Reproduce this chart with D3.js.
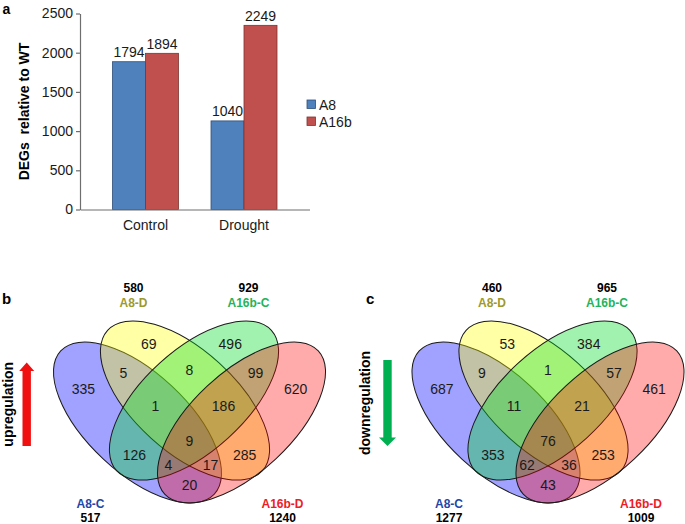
<!DOCTYPE html>
<html><head><meta charset="utf-8">
<script src="https://cdn.jsdelivr.net/npm/d3@7"></script>
<style>
body{margin:0;background:#fff;}
svg{display:block;font-family:"Liberation Sans",Arial,Helvetica,sans-serif;}
</style></head><body>
<svg id="chart" width="685" height="524"></svg>
<script>
// ---------------- data ----------------
const categories = ["Control", "Drought"];
const seriesNames = ["A8", "A16b"];
const a8Heights = [1885, 1130];      // bar heights as drawn
const a16bHeights = [1992, 2349];
const a8Labels = ["1794", "1040"];   // printed value labels
const a16bLabels = ["1894", "2249"];
const yTicks = [0, 500, 1000, 1500, 2000, 2500];
const yTitle = "DEGs  relative to WT";

const setNames = ["A8-C", "A8-D", "A16b-C", "A16b-D"];
const upTotals = [517, 580, 929, 1240];
const downTotals = [1277, 460, 965, 1009];
// membership order: A8-C, A8-D, A16b-C, A16b-D
const regionKeys = ["1000","0100","0010","0001","1100","0110","0011","1001","1010","0101","1110","0111","1011","1101","1111"];
const upCounts   = [335, 69, 496, 620, 5, 8, 99, 20, 126, 285, 1, 186, 4, 17, 9];
const downCounts = [687, 53, 384, 461, 9, 1, 57, 43, 353, 253, 11, 21, 62, 36, 76];

// ---------------- setup ----------------
const FONT = '"Liberation Sans", Arial, Helvetica, sans-serif';
const ink = "#1a1a1a";
const axisColor = "#6e6e6e";
const svg = d3.select("#chart");

// ================= panel a =================
const gA = svg.append("g");
gA.append("text").attr("x", 2.5).attr("y", 13.5).attr("font-weight", "bold")
  .attr("font-size", 14).attr("fill", "#000").text("a");

const y = d3.scaleLinear().domain([0, 2500]).range([209.5, 13.5]);
const x0 = d3.scaleBand().domain(categories).range([80, 309.5]).paddingInner(0.33).paddingOuter(0.33);
const x1 = d3.scaleBand().domain(seriesNames).range([0, x0.bandwidth()]);
const fillC = d3.scaleOrdinal().domain(seriesNames).range(["#4f81bd", "#c0504d"]);
const strokeC = d3.scaleOrdinal().domain(seriesNames).range(["#2f4f78", "#7f3331"]);
const heights = {A8: a8Heights, A16b: a16bHeights};
const labels = {A8: a8Labels, A16b: a16bLabels};
const rows = [];
categories.forEach((c, i) => seriesNames.forEach(s => rows.push({c, s, v: heights[s][i], label: labels[s][i]})));

gA.selectAll("rect.bar").data(rows).join("rect").attr("class", "bar")
  .attr("x", d => x0(d.c) + x1(d.s)).attr("y", d => y(d.v))
  .attr("width", x1.bandwidth()).attr("height", d => y(0) - y(d.v))
  .attr("fill", d => fillC(d.s)).attr("stroke", d => strokeC(d.s)).attr("stroke-width", 0.8);

gA.selectAll("text.val").data(rows).join("text").attr("class", "val")
  .attr("x", d => x0(d.c) + x1(d.s) + x1.bandwidth() / 2).attr("y", d => y(d.v) - 4.5)
  .attr("text-anchor", "middle").attr("font-size", 14).attr("fill", ink).text(d => d.label);

const yAx = gA.append("g").attr("transform", "translate(80,0)")
  .call(d3.axisLeft(y).tickValues(yTicks).tickFormat(d3.format("d")).tickSize(4).tickSizeOuter(0).tickPadding(3))
  .attr("font-family", FONT).attr("font-size", 14);
yAx.select(".domain").attr("stroke", axisColor).attr("stroke-width", 1.2);
yAx.selectAll(".tick line").attr("stroke", axisColor).attr("stroke-width", 1.2);
yAx.selectAll(".tick text").attr("fill", ink);

const xAx = gA.append("g").attr("transform", `translate(0,${y(0)})`)
  .call(d3.axisBottom(x0).tickSize(0).tickSizeOuter(0).tickPadding(11))
  .attr("font-family", FONT).attr("font-size", 14);
xAx.select(".domain").attr("stroke", axisColor).attr("stroke-width", 1.2);
xAx.selectAll(".tick text").attr("fill", ink);

gA.append("text").attr("transform", "translate(28.5,111.5) rotate(-90)")
  .attr("text-anchor", "middle").attr("font-weight", "bold").attr("font-size", 14)
  .style("white-space", "pre").attr("fill", "#000").text(yTitle);

const legY = d3.scaleBand().domain(seriesNames).range([98, 132]);
const leg = gA.selectAll("g.leg").data(seriesNames).join("g").attr("class", "leg")
  .attr("transform", d => `translate(307,${legY(d)})`);
leg.append("rect").attr("x", 0).attr("y", 2).attr("width", 8.5).attr("height", 8.5)
  .attr("fill", d => fillC(d)).attr("stroke", d => strokeC(d)).attr("stroke-width", 0.8);
leg.append("text").attr("x", 12).attr("y", 12).attr("font-size", 14).attr("fill", ink).text(d => d);

// ================= Venn panels =================
// ellipse layout (pixel offsets from the diagram centre)
const ellipses = [
  {x: -52,  y: 12.5, a: 105,   b: 50,   rot: 43,   fill: "#0000ff", op: 0.37},
  {x: -4.5, y: -9.5, a: 104.5, b: 50.7, rot: 42.2, fill: "#ffff00", op: 0.35},
  {x: 4.5,  y: -9.5, a: 104.5, b: 50.7, rot: -42.2, fill: "#00dd22", op: 0.37},
  {x: 52,   y: 12.5, a: 105,   b: 50,   rot: -43,  fill: "#ff0000", op: 0.33}
];
const setColors = ["#1f47a8", "#9d9a2c", "#25b35a", "#ee1c24"];
const setLabelPos = [[-99, 1], [-56, -1], [59, -1], [93, 1]]; // x offset, side (-1 top, 1 bottom)

function computeLabelPoints(ells) {
  const gx = -150, gy = -105, GW = 300, GH = 215, N = GW * GH;
  const keys = new Array(N);
  const prep = ells.map(e => ({...e, c: Math.cos(e.rot * Math.PI / 180), s: Math.sin(e.rot * Math.PI / 180)}));
  for (let j = 0; j < GH; j++) for (let i = 0; i < GW; i++) {
    const px = gx + i + 0.5, py = gy + j + 0.5;
    let k = "";
    for (const e of prep) {
      const dx = px - e.x, dy = py - e.y;
      const u = dx * e.c + dy * e.s, v = -dx * e.s + dy * e.c;
      k += (u * u / (e.a * e.a) + v * v / (e.b * e.b) <= 1) ? "1" : "0";
    }
    keys[j * GW + i] = k;
  }
  const out = {};
  const d = new Float32Array(N);
  const S2 = Math.SQRT2;
  const get = (i, j) => (i < 0 || j < 0 || i >= GW || j >= GH) ? 0 : d[j * GW + i];
  for (const key of regionKeys) {
    for (let n = 0; n < N; n++) d[n] = keys[n] === key ? 1e6 : 0;
    for (let j = 0; j < GH; j++) for (let i = 0; i < GW; i++) {
      const n = j * GW + i; if (d[n] === 0) continue;
      d[n] = Math.min(d[n], get(i - 1, j) + 1, get(i, j - 1) + 1, get(i - 1, j - 1) + S2, get(i + 1, j - 1) + S2);
    }
    for (let j = GH - 1; j >= 0; j--) for (let i = GW - 1; i >= 0; i--) {
      const n = j * GW + i; if (d[n] === 0) continue;
      d[n] = Math.min(d[n], get(i + 1, j) + 1, get(i, j + 1) + 1, get(i + 1, j + 1) + S2, get(i - 1, j + 1) + S2);
    }
    let best = 0;
    for (let n = 0; n < N; n++) if (d[n] > best) best = d[n];
    let sx = 0, sy = 0, cnt = 0;
    for (let n = 0; n < N; n++) if (d[n] >= best - 0.75) { sx += gx + (n % GW) + 0.5; sy += gy + Math.floor(n / GW) + 0.5; cnt++; }
    out[key] = [sx / cnt, sy / cnt];
  }
  return out;
}
const labelPts = computeLabelPoints(ellipses);

function drawVenn(opt) {
  const g = svg.append("g").attr("transform", `translate(${opt.cx},${opt.cy})`);
  g.selectAll("ellipse").data(ellipses).join("ellipse")
    .attr("cx", d => d.x).attr("cy", d => d.y).attr("rx", d => d.a).attr("ry", d => d.b)
    .attr("transform", d => `rotate(${d.rot},${d.x},${d.y})`)
    .attr("fill", d => d.fill).attr("fill-opacity", d => d.op)
    .attr("stroke", "#1a1a1a").attr("stroke-width", 1);
  const regs = regionKeys.map((k, i) => ({k, v: opt.counts[i]}));
  g.selectAll("text.reg").data(regs).join("text").attr("class", "reg")
    .attr("x", d => labelPts[d.k][0]).attr("y", d => labelPts[d.k][1])
    .attr("dy", "0.36em").attr("text-anchor", "middle").attr("font-size", 14)
    .attr("fill", ink).text(d => d.v);
  const sets = setNames.map((n, i) => ({n, t: opt.totals[i], i}));
  const sg = g.selectAll("g.set").data(sets).join("g").attr("class", "set")
    .attr("transform", d => `translate(${setLabelPos[d.i][0]},0)`);
  sg.append("text").attr("text-anchor", "middle").attr("font-weight", "bold").attr("font-size", 12)
    .attr("y", d => setLabelPos[d.i][1] < 0 ? -103.5 : 97.5)
    .attr("fill", d => setColors[d.i]).text(d => d.n);
  sg.append("text").attr("text-anchor", "middle").attr("font-weight", "bold").attr("font-size", 12)
    .attr("y", d => setLabelPos[d.i][1] < 0 ? -118.5 : 111.5)
    .attr("fill", "#000").text(d => d.t);

  // arrow
  const ax = opt.arrowX, top = opt.arrowTop, bot = opt.arrowBottom, hw = 4.2, hh = opt.headHalf, hl = 8.5;
  let pts;
  if (opt.up) {
    pts = [[ax - hw, bot], [ax - hw, top + hl], [ax - hh, top + hl], [ax, top], [ax + hh, top + hl], [ax + hw, top + hl], [ax + hw, bot]];
  } else {
    pts = [[ax - hw, top], [ax - hw, bot - hl], [ax - hh, bot - hl], [ax, bot], [ax + hh, bot - hl], [ax + hw, bot - hl], [ax + hw, top]];
  }
  svg.append("path").attr("d", d3.line()(pts) + "Z").attr("fill", opt.arrowColor);
  svg.append("text").attr("transform", `translate(${opt.textX},${(top + bot) / 2}) rotate(-90)`)
    .attr("text-anchor", "middle").attr("font-weight", "bold").attr("font-size", 14)
    .attr("fill", "#000").text(opt.text);
  svg.append("text").attr("x", opt.letterX).attr("y", 304).attr("font-weight", "bold")
    .attr("font-size", 15).attr("fill", "#000").text(opt.letter);
}

drawVenn({cx: 189.5, cy: 410, counts: upCounts, totals: upTotals, up: true,
  arrowX: 26.7, arrowTop: 362.5, arrowBottom: 446, headHalf: 7.5, arrowColor: "#f01010",
  textX: 12.5, text: "upregulation", letter: "b", letterX: 2});
drawVenn({cx: 548, cy: 410, counts: downCounts, totals: downTotals, up: false,
  arrowX: 387.5, arrowTop: 360, arrowBottom: 446, headHalf: 8.5, arrowColor: "#00b050",
  textX: 369.5, text: "downregulation", letter: "c", letterX: 366});
</script>
</body></html>
